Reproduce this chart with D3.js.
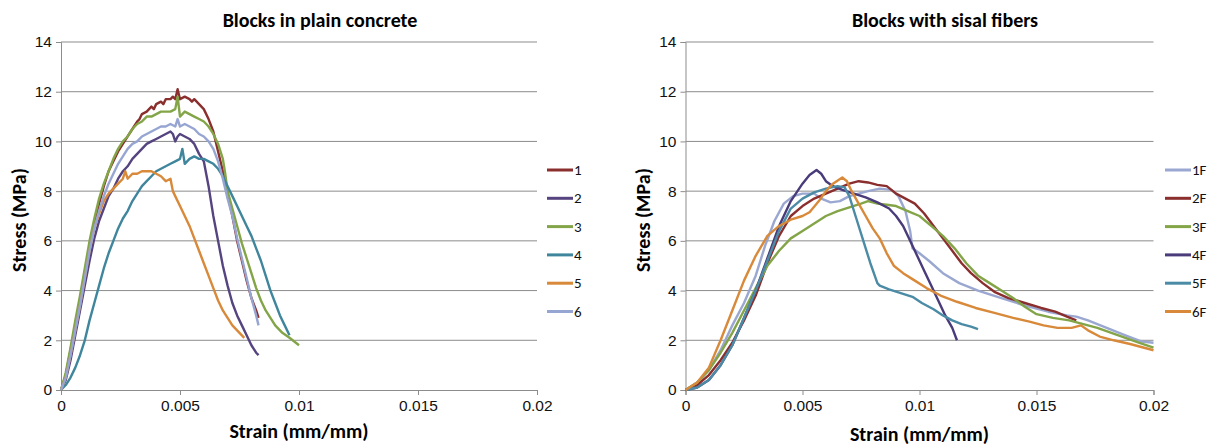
<!DOCTYPE html>
<html>
<head>
<meta charset="utf-8">
<script src="https://cdn.jsdelivr.net/npm/d3@7"></script>
<style>
  body { margin: 0; background: #fff; }
  svg { display: block; font-family: Carlito, Lato, "Open Sans", sans-serif; }
  .grid line { stroke: #8c8c8c; stroke-width: 1; }
  .axis path, .axis line { stroke: #8c8c8c; }
  .axis text { font-size: 15.5px; fill: #111; }
</style>
</head>
<body>
<svg id="chart" width="1217" height="446"></svg>
<script>

//----------------------------------data----------------------------------------

const xTicks = [0, 0.005, 0.01, 0.015, 0.02];
const yTicks = [0, 2, 4, 6, 8, 10, 12, 14];

//Plain concrete blocks, [strain, stress]
const plainNames = ["1", "2", "3", "4", "5", "6"];
const plainColors = ["#8b2e2e", "#55447f", "#83a548", "#3f869c", "#d8893a", "#97a5d2"];

const plain1 = [[0,0],[0.0002,0.6],[0.0004,1.6],[0.0006,2.6],[0.0008,3.6],[0.001,4.7],[0.0012,5.8],[0.0014,6.7],
  [0.0016,7.5],[0.0018,8.2],[0.002,8.8],[0.0022,9.2],[0.0024,9.6],[0.0026,9.9],[0.0028,10.2],[0.003,10.5],
  [0.0032,10.8],[0.0033,10.9],[0.0034,11.1],[0.0036,11.2],[0.0038,11.4],[0.0039,11.3],[0.004,11.5],[0.0042,11.6],
  [0.0043,11.5],[0.0044,11.7],[0.0046,11.7],[0.0047,11.8],[0.0048,11.7],[0.0049,12.1],[0.005,11.7],[0.0052,11.8],
  [0.0054,11.7],[0.0055,11.6],[0.0056,11.7],[0.0058,11.5],[0.006,11.3],[0.0062,10.9],[0.0064,10.4],[0.0066,9.6],
  [0.0068,8.8],[0.007,7.9],[0.0072,7.0],[0.0074,6.0],[0.0076,5.2],[0.0078,4.4],[0.008,3.7],[0.0082,3.2],[0.0083,2.9]];

const plain2 = [[0,0],[0.0002,0.4],[0.0004,1.2],[0.0006,2.2],[0.0008,3.2],[0.001,4.2],[0.0012,5.2],[0.0014,6.1],
  [0.0016,6.8],[0.0018,7.3],[0.002,7.8],[0.0022,8.1],[0.0024,8.5],[0.0026,8.8],[0.0028,9.0],[0.003,9.3],
  [0.0032,9.5],[0.0034,9.7],[0.0036,9.9],[0.0038,10.0],[0.004,10.1],[0.0042,10.2],[0.0044,10.3],[0.0046,10.4],
  [0.0047,10.3],[0.0048,10.0],[0.0049,10.2],[0.005,10.3],[0.0052,10.2],[0.0054,10.1],[0.0056,9.9],[0.0058,9.5],
  [0.006,9.2],[0.0061,8.7],[0.0062,8.2],[0.0063,7.6],[0.0064,7.0],[0.0066,6.0],[0.0068,5.0],[0.007,4.2],
  [0.0072,3.5],[0.0074,3.0],[0.0076,2.6],[0.0078,2.2],[0.008,1.8],[0.0082,1.5],[0.0083,1.4]];

const plain3 = [[0,0],[0.0002,0.7],[0.0004,1.7],[0.0006,2.8],[0.0008,3.8],[0.001,4.9],[0.0012,6.0],[0.0014,6.9],
  [0.0016,7.7],[0.0018,8.3],[0.002,8.8],[0.0022,9.3],[0.0024,9.7],[0.0026,10.0],[0.0028,10.2],[0.003,10.5],
  [0.0032,10.7],[0.0034,10.8],[0.0036,11.0],[0.0038,11.0],[0.004,11.1],[0.0042,11.2],[0.0044,11.2],[0.0046,11.2],
  [0.0048,11.3],[0.0049,11.8],[0.005,11.0],[0.0051,11.1],[0.0052,11.2],[0.0054,11.1],[0.0056,11.0],[0.0058,10.9],
  [0.006,10.8],[0.0062,10.6],[0.0064,10.3],[0.0066,9.9],[0.0068,9.3],[0.0069,8.7],[0.007,8.0],[0.0072,7.3],
  [0.0074,6.6],[0.0076,5.9],[0.0078,5.3],[0.008,4.7],[0.0082,4.1],[0.0084,3.6],[0.0086,3.2],[0.0088,2.9],
  [0.009,2.6],[0.0093,2.3],[0.0096,2.1],[0.01,1.8]];

const plain4 = [[0,0],[0.0002,0.2],[0.0004,0.5],[0.0006,0.9],[0.0008,1.4],[0.001,2.0],[0.0012,2.8],[0.0014,3.5],
  [0.0016,4.2],[0.0018,4.9],[0.002,5.5],[0.0022,6.0],[0.0024,6.5],[0.0026,6.9],[0.0028,7.2],[0.003,7.6],
  [0.0032,7.9],[0.0034,8.2],[0.0036,8.4],[0.0038,8.6],[0.004,8.8],[0.0042,8.9],[0.0044,9.0],[0.0046,9.1],
  [0.0048,9.2],[0.005,9.3],[0.0051,9.7],[0.0052,9.1],[0.0054,9.3],[0.0056,9.4],[0.0058,9.3],[0.006,9.3],
  [0.0062,9.2],[0.0064,9.1],[0.0066,8.9],[0.0068,8.6],[0.007,8.2],[0.0072,7.8],[0.0074,7.4],[0.0076,7.0],
  [0.0078,6.6],[0.008,6.2],[0.0082,5.7],[0.0084,5.2],[0.0086,4.6],[0.0088,4.0],[0.009,3.5],[0.0092,3.0],
  [0.0094,2.6],[0.0096,2.2]];

const plain5 = [[0,0],[0.0002,0.5],[0.0004,1.4],[0.0006,2.4],[0.0008,3.4],[0.001,4.5],[0.0012,5.6],[0.0014,6.5],
  [0.0016,7.1],[0.0018,7.6],[0.002,7.9],[0.0022,8.1],[0.0024,8.3],[0.0026,8.5],[0.0027,8.8],[0.0028,8.5],
  [0.003,8.7],[0.0032,8.7],[0.0034,8.8],[0.0036,8.8],[0.0038,8.8],[0.004,8.7],[0.0042,8.6],[0.0044,8.4],
  [0.0046,8.5],[0.0047,8.0],[0.0048,7.8],[0.005,7.4],[0.0052,7.0],[0.0054,6.6],[0.0056,6.1],[0.0058,5.6],
  [0.006,5.1],[0.0062,4.6],[0.0064,4.1],[0.0066,3.6],[0.0068,3.2],[0.007,2.9],[0.0072,2.6],[0.0074,2.4],
  [0.0076,2.2],[0.0077,2.1]];

const plain6 = [[0,0],[0.0002,0.5],[0.0004,1.4],[0.0006,2.4],[0.0008,3.4],[0.001,4.5],[0.0012,5.6],[0.0014,6.5],
  [0.0016,7.2],[0.0018,7.8],[0.002,8.3],[0.0022,8.7],[0.0024,9.1],[0.0026,9.4],[0.0028,9.7],[0.003,9.9],
  [0.0032,10.0],[0.0034,10.2],[0.0036,10.3],[0.0038,10.4],[0.004,10.5],[0.0042,10.6],[0.0044,10.6],[0.0046,10.7],
  [0.0048,10.6],[0.0049,10.9],[0.005,10.6],[0.0052,10.7],[0.0054,10.6],[0.0056,10.5],[0.0058,10.3],[0.006,10.2],
  [0.0062,10.0],[0.0064,9.7],[0.0066,9.2],[0.0068,8.5],[0.007,7.7],[0.0072,7.0],[0.0074,6.1],[0.0076,5.3],
  [0.0078,4.5],[0.008,3.7],[0.0082,3.0],[0.0083,2.6]];

//Blocks with sisal fibers, [strain, stress]
const fiberNames = ["1F", "2F", "3F", "4F", "5F", "6F"];
const fiberColors = ["#9aa7d0", "#8b2e2e", "#83a548", "#4a3b7a", "#4b8ba5", "#d8893a"];

const fiber1 = [[0,0],[0.0005,0.3],[0.001,0.8],[0.0015,1.6],[0.002,2.6],[0.0025,3.5],[0.003,4.6],[0.0034,5.8],
  [0.0038,6.8],[0.0042,7.5],[0.0046,7.8],[0.005,7.9],[0.0055,7.9],[0.0058,7.7],[0.0062,7.55],[0.0066,7.6],
  [0.007,7.8],[0.0074,7.9],[0.0078,8.0],[0.0083,8.1],[0.0088,8.05],[0.0091,7.8],[0.0094,7.2],[0.0096,6.4],
  [0.0097,5.7],[0.01,5.5],[0.0104,5.2],[0.011,4.7],[0.0117,4.3],[0.0125,4.0],[0.0135,3.7],[0.0145,3.4],
  [0.0155,3.15],[0.0163,3.0],[0.0167,2.95],[0.0172,2.8],[0.018,2.5],[0.0188,2.2],[0.0195,1.95],[0.02,1.9]];

const fiber2 = [[0,0],[0.0005,0.2],[0.001,0.6],[0.0015,1.2],[0.002,1.9],[0.0025,2.8],[0.003,3.8],[0.0035,5.1],
  [0.004,6.2],[0.0045,7.0],[0.005,7.4],[0.0055,7.7],[0.006,7.9],[0.0065,8.1],[0.007,8.3],[0.0074,8.4],
  [0.0078,8.35],[0.0082,8.25],[0.0086,8.2],[0.009,7.9],[0.0094,7.7],[0.0098,7.5],[0.0102,7.1],[0.0106,6.6],
  [0.011,6.1],[0.0114,5.6],[0.0118,5.1],[0.0122,4.7],[0.0127,4.3],[0.0132,3.95],[0.0138,3.7],[0.0145,3.5],
  [0.0152,3.3],[0.0158,3.15],[0.0163,2.95],[0.0167,2.8]];

const fiber3 = [[0,0],[0.0005,0.3],[0.001,0.8],[0.0015,1.5],[0.002,2.3],[0.0025,3.2],[0.003,4.1],[0.0035,5.0],
  [0.004,5.6],[0.0045,6.1],[0.005,6.4],[0.0055,6.7],[0.006,7.0],[0.0065,7.2],[0.007,7.35],[0.0075,7.5],
  [0.0078,7.6],[0.0082,7.5],[0.0086,7.45],[0.009,7.4],[0.0095,7.2],[0.01,7.0],[0.0105,6.6],[0.011,6.2],
  [0.0115,5.7],[0.012,5.1],[0.0125,4.6],[0.013,4.3],[0.0135,4.0],[0.014,3.7],[0.0145,3.35],[0.015,3.05],
  [0.0157,2.9],[0.0164,2.8],[0.017,2.65],[0.0176,2.5],[0.0182,2.3],[0.0188,2.1],[0.0194,1.9],[0.02,1.7]];

const fiber4 = [[0,0],[0.0005,0.1],[0.001,0.4],[0.0015,1.0],[0.002,1.8],[0.0025,2.9],[0.003,4.0],[0.0035,5.3],
  [0.004,6.6],[0.0045,7.6],[0.005,8.3],[0.0053,8.65],[0.0056,8.85],[0.0058,8.7],[0.006,8.4],[0.0063,8.2],
  [0.0067,8.05],[0.0072,7.9],[0.0077,7.75],[0.0082,7.55],[0.0087,7.3],[0.009,7.0],[0.0093,6.6],[0.0096,6.0],
  [0.0099,5.4],[0.0102,4.8],[0.0105,4.2],[0.0108,3.6],[0.0111,3.0],[0.0114,2.5],[0.0116,2.0]];

const fiber5 = [[0,0],[0.0005,0.1],[0.001,0.4],[0.0015,1.0],[0.002,1.8],[0.0025,2.9],[0.003,4.0],[0.0035,5.2],
  [0.004,6.4],[0.0045,7.3],[0.005,7.7],[0.0055,7.95],[0.006,8.1],[0.0065,8.2],[0.0068,8.15],[0.007,7.8],
  [0.0073,6.9],[0.0076,6.0],[0.0079,5.1],[0.0082,4.3],[0.0083,4.2],[0.0087,4.05],[0.0092,3.9],[0.0097,3.75],
  [0.0101,3.5],[0.0106,3.25],[0.011,3.0],[0.0114,2.8],[0.0118,2.65],[0.0122,2.55],[0.0125,2.45]];

const fiber6 = [[0,0],[0.0005,0.3],[0.001,0.9],[0.0015,2.0],[0.002,3.2],[0.0025,4.4],[0.003,5.4],[0.0035,6.2],
  [0.004,6.6],[0.0045,6.85],[0.005,7.0],[0.0053,7.15],[0.0057,7.6],[0.006,8.0],[0.0063,8.3],[0.0067,8.55],
  [0.0069,8.4],[0.0071,8.0],[0.0074,7.5],[0.0077,7.0],[0.008,6.5],[0.0083,6.1],[0.0086,5.5],[0.0089,5.0],
  [0.0093,4.7],[0.0098,4.4],[0.0103,4.1],[0.0109,3.8],[0.0116,3.55],[0.0124,3.3],[0.0132,3.1],[0.014,2.9],
  [0.0147,2.75],[0.0153,2.6],[0.0159,2.5],[0.0165,2.5],[0.0169,2.6],[0.0172,2.4],[0.0177,2.15],[0.0183,2.0],
  [0.019,1.85],[0.0196,1.7],[0.02,1.6]];

//---------------------------------drawPanel()----------------------------------

const svg = d3.select("#chart");

function drawPanel(cfg) {

  let x = d3.scaleLinear().domain([0, 0.02]).range([cfg.left, cfg.right]);
  let y = d3.scaleLinear().domain([0, 14]).range([390, 42]);

  let g = svg.append("g");

  //Horizontal gridlines, Excel style
  g.append("g").attr("class", "grid")
    .selectAll("line").data(yTicks.slice(1)).enter().append("line")
      .attr("x1", cfg.left).attr("x2", cfg.right)
      .attr("y1", d => y(d)).attr("y2", d => y(d));

  g.append("g").attr("class", "axis")
    .attr("transform", `translate(${cfg.left},0)`)
    .call(d3.axisLeft(y).tickValues(yTicks).tickSize(5).tickPadding(4).tickFormat(d => d));

  g.append("g").attr("class", "axis")
    .attr("transform", "translate(0,390)")
    .call(d3.axisBottom(x).tickValues(xTicks).tickSize(5).tickPadding(5).tickFormat(d => String(d)));

  //Curves, first series drawn first so the last one ends on top
  let line = d3.line().x(d => x(d[0])).y(d => y(d[1]));
  cfg.series.forEach((s, i) => {
    g.append("path")
      .attr("d", line(s))
      .attr("fill", "none")
      .attr("stroke", cfg.colors[i])
      .attr("stroke-width", 2.4)
      .attr("stroke-linejoin", "round");
  });

  //Legend
  let leg = g.append("g").attr("transform", `translate(${cfg.legendX},0)`);
  cfg.names.forEach((n, i) => {
    let ly = 170 + i * 28.3;
    leg.append("line")
      .attr("x1", 0).attr("x2", 26).attr("y1", ly).attr("y2", ly)
      .attr("stroke", cfg.colors[i]).attr("stroke-width", 3);
    leg.append("text")
      .attr("x", 27).attr("y", ly + 5)
      .attr("font-size", 15).attr("fill", "#111")
      .text(n);
  });

  //Titles (chart title centered on the whole chart area, like Excel)
  g.append("text")
    .attr("x", cfg.titleX).attr("y", 27)
    .attr("text-anchor", "middle").attr("font-weight", "bold").attr("font-size", 20)
    .text(cfg.title);

  g.append("text")
    .attr("x", (cfg.left + cfg.right) / 2).attr("y", cfg.xTitleY)
    .attr("text-anchor", "middle").attr("font-weight", "bold").attr("font-size", 20)
    .text("Strain (mm/mm)");

  g.append("text")
    .attr("transform", `translate(${cfg.yTitleX},220) rotate(-90)`)
    .attr("text-anchor", "middle").attr("font-weight", "bold").attr("font-size", 20)
    .text("Stress (MPa)");
}

drawPanel({
  left: 61, right: 537, legendX: 547, xTitleY: 438, yTitleX: 26, titleX: 320,
  title: "Blocks in plain concrete",
  names: plainNames, colors: plainColors,
  series: [plain1, plain2, plain3, plain4, plain5, plain6]
});

drawPanel({
  left: 685.5, right: 1153.5, legendX: 1165, xTitleY: 441, yTitleX: 650, titleX: 945,
  title: "Blocks with sisal fibers",
  names: fiberNames, colors: fiberColors,
  series: [fiber1, fiber2, fiber3, fiber4, fiber5, fiber6]
});

</script>
</body>
</html>
